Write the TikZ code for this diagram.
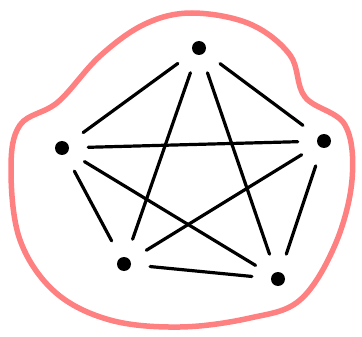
\documentclass[tikz,border=0pt]{standalone}
\begin{document}
\begin{tikzpicture}[x=1pt,y=-1pt,
  vert/.style={circle,fill=black,inner sep=0pt,minimum size=14pt},
  edge/.style={line width=3.2pt,line cap=round,shorten <=19pt,shorten >=19pt},
  blob/.style={line width=5.5pt,color=red!50,line cap=round,line join=round}]
\useasboundingbox (0,0) rectangle (362,337);
\fill[white] (0,0) rectangle (362,337);
\draw[blob] plot[smooth cycle,tension=0.6] coordinates {
 (192,13) (250,24) (290,55) (305,97) (345,125) (352,180) (335,245)
 (300,300) (250,318) (180,327) (110,320) (55,292) (20,240) (11,170)
 (20,125) (58,102) (100,56) (145,24)};
\node[vert] (t) at (199,48) {};
\node[vert] (l) at (62,148) {};
\node[vert] (r) at (324,141) {};
\node[vert] (bl) at (124,264) {};
\node[vert] (br) at (278,279) {};
\draw[edge] (t) -- (l);
\draw[edge] (t) -- (r);
\draw[edge] (t) -- (bl);
\draw[edge] (t) -- (br);
\draw[edge] (l) -- (r);
\draw[edge] (l) -- (bl);
\draw[edge] (l) -- (br);
\draw[edge] (r) -- (bl);
\draw[edge] (r) -- (br);
\draw[edge] (bl) -- (br);
\end{tikzpicture}
\end{document}
